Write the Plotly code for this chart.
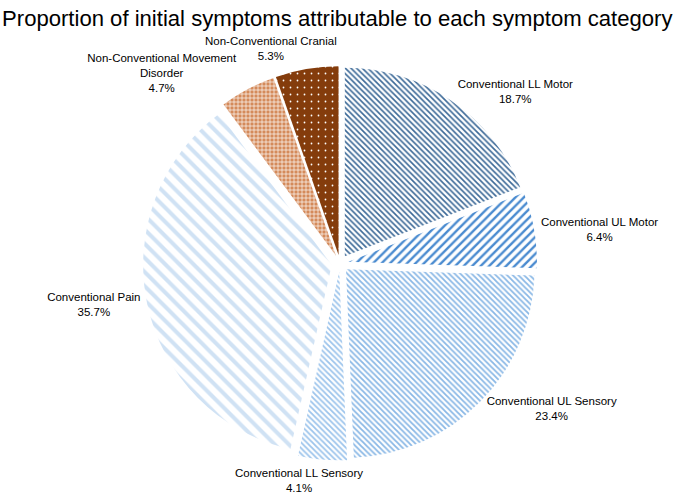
import plotly.graph_objects as go

# categories, clockwise from 12 o'clock
categories = [
    "Conventional LL Motor",
    "Conventional UL Motor",
    "Conventional UL Sensory",
    "Conventional LL Sensory",
    "Conventional Pain",
    "Non-Conventional Movement<br>Disorder",
    "Non-Conventional Cranial",
]
percent = [18.7, 6.4, 23.4, 4.1, 35.7, 4.7, 5.3]
percent_text = ["18.7%", "6.4%", "23.4%", "4.1%", "35.7%", "4.7%", "5.3%"]

fg = ["#3d6a98", "#4a8bd0", "#8ab8e6", "#9cc4ec", "#d0e2f4", "white", "white"]
bg = ["white", "white", "white", "white", "white", "#d48a5a", "#843c0c"]
shapes = ["\\", "/", "\\", "\\", "\\", "+", "."]
sizes = [4, 6, 4, 4, 10, 4, 7]
solid = [0.4, 0.4, 0.45, 0.45, 0.4, 0.3, 0.05]

# plotly's own outside placement is kept for most labels; these two are
# placed as annotations (plotly pushes them away from where the source has them)
own_label = [True, True, True, False, True, True, False]
tmpl = ["%{label}<br>%{text}" if k else "" for k in own_label]

fig = go.Figure(go.Pie(
    labels=categories,
    values=percent,
    text=percent_text,
    texttemplate=tmpl,
    textposition="outside",
    textfont=dict(size=11.5, color="black"),
    sort=False,
    direction="clockwise",
    rotation=0,
    pull=0.045,
    marker=dict(
        colors=bg,
        line=dict(color="white", width=0),
        pattern=dict(shape=shapes, fgcolor=fg, bgcolor=bg, size=sizes,
                     solidity=solid, fgopacity=1),
    ),
    domain=dict(x=[0.214, 0.804], y=[0.06, 0.874]),
    showlegend=False,
    hoverinfo="label+text",
))

label_pos = {3: (0.447, 0.028), 6: (0.405, 0.902)}
for i, (ax, ay) in label_pos.items():
    fig.add_annotation(
        text=categories[i] + "<br>" + percent_text[i],
        x=ax, y=ay, xref="paper", yref="paper",
        xanchor="center", yanchor="middle", showarrow=False,
        font=dict(size=11.5, color="black"),
    )

fig.update_layout(
    width=680,
    height=494,
    margin=dict(l=0, r=0, t=0, b=0),
    paper_bgcolor="white",
    font=dict(family="Liberation Sans, Arial, sans-serif", color="black"),
    title=dict(
        text="Proportion of initial symptoms attributable to each symptom category",
        font=dict(size=22.1, color="black"),
        x=0.003, xanchor="left", xref="container",
        y=0.963, yanchor="middle", yref="container",
    ),
)

# drop the browser's default body margin so the figure fills the window
fig.write_html("out.html", config={"displayModeBar": False},
               post_script="document.body.style.margin='0';")
